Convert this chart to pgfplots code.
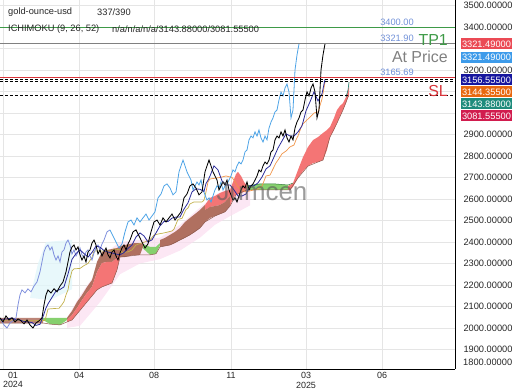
\documentclass[border=0pt]{standalone}
\usepackage{pgfplots}
\pgfplotsset{compat=1.18}
\usepackage{fontspec}
\setmainfont{Liberation Sans}
\definecolor{tenkan}{HTML}{2A2A9A}
\definecolor{kijunA}{HTML}{C2B04A}
\definecolor{kijunB}{HTML}{F0954A}
\definecolor{chikA}{HTML}{7F8FDD}
\definecolor{chikB}{HTML}{4DA3E6}
\definecolor{cloudred}{HTML}{F47575}
\definecolor{cloudbrown}{HTML}{B07060}
\definecolor{cloudgreen}{HTML}{86D06E}
\definecolor{tpgreen}{HTML}{3E9A47}
\definecolor{slred}{HTML}{D9343A}
\definecolor{lblblue}{HTML}{7090D8}
\definecolor{boxred}{HTML}{EB4A55}
\definecolor{boxblue}{HTML}{3D9BEA}
\definecolor{boxnavy}{HTML}{16169E}
\definecolor{boxorange}{HTML}{E8680F}
\definecolor{boxteal}{HTML}{1E8B7C}
\definecolor{boxcrimson}{HTML}{D11C4E}
\definecolor{shpink}{HTML}{FBDDF0}
\definecolor{shcyan}{HTML}{E2F6FA}
\tikzset{pbox/.style={fill=#1, text=white, inner sep=0pt, minimum width=51bp, minimum height=11bp, font=\fontsize{9.3}{10}\selectfont}}
\begin{document}
\begin{tikzpicture}[x=1bp,y=1bp]
\begin{axis}[
  scale only axis, width=455bp, height=369bp,
  xmin=0, xmax=455, ymin=1809, ymax=3525.6,
  axis x line*=bottom, axis y line*=right,
  axis line style={line width=0.8pt, black},
  clip mode=individual,
  tick style={draw=none}, major tick length=0pt,
  grid=major, grid style={line width=0.5pt, draw=black!10},
  xtick={3,79,154,231,306,382},
  xticklabels={,04,08,11,{03\\2025},06},
  xticklabel style={font=\fontsize{9}{9.5}\selectfont, align=center, text=black!85},
  ytick={1900,2000,...,3500},
  yticklabels={1900.00000,2000.00000,2100.00000,2200.00000,2300.00000,2400.00000,2500.00000,2600.00000,2700.00000,2800.00000,2900.00000,,,3200.00000,,3400.00000,3500.00000},
  yticklabel style={font=\fontsize{9.3}{10}\selectfont, anchor=west, xshift=5bp, text=black!85},
]
\coordinate (BL) at (rel axis cs:0,0);
% shading
\addplot[fill=shpink, draw=none, opacity=0.7] coordinates {(67,2047)(80,2150)(95,2250)(100,2330)(120,2400)(140,2410)(160,2420)(180,2480)(200,2560)(215,2620)(230,2650)(250,2660)(250,2570)(230,2520)(215,2480)(200,2420)(180,2360)(160,2320)(140,2300)(120,2250)(100,2120)(80,2010)(67,2000)};
\addplot[fill=shcyan, draw=none, opacity=0.8] coordinates {(30,2140)(38,2300)(46,2400)(72,2410)(72,2180)(50,2130)};
% cloud
\addplot[fill=cloudbrown, draw=none, opacity=0.85] coordinates {(0,2047)(20,2047)(43,2047)(43,2023)(20,2023)(0,2023)};
\addplot[fill=cloudgreen, draw=none] coordinates {(43,2047)(50,2047)(60,2047)(67,2047)(67,2037)(60,2014)(50,2018)(43,2037)};
\addplot[fill=cloudbrown, draw=none] coordinates {(67,2047)(72,2079)(77,2121)(82,2153)(87,2191)(92,2223)(97,2307)(102,2354)(107,2363)(112,2367)(117,2372)(120,2381)(120,2340)(117,2326)(112,2307)(107,2307)(102,2302)(97,2260)(92,2191)(87,2163)(82,2130)(77,2093)(72,2060)(67,2037)};
\addplot[fill=cloudred, draw=none] coordinates {(67,2037)(72,2060)(77,2093)(82,2130)(87,2163)(92,2191)(97,2260)(102,2302)(107,2307)(112,2307)(117,2326)(120,2340)(120,2330)(117,2270)(112,2209)(107,2200)(102,2191)(97,2177)(92,2149)(87,2121)(82,2093)(77,2065)(72,2037)(67,2028)};
\addplot[fill=cloudbrown, draw=none] coordinates {(120,2381)(125,2386)(130,2391)(135,2395)(140,2395)(143,2391)(143,2377)(140,2340)(135,2340)(130,2335)(125,2330)(120,2330)};
\addplot[fill=cloudgreen, draw=none] coordinates {(143,2391)(150,2377)(156,2377)(160,2395)(160,2385)(156,2345)(150,2340)(143,2370)};
\addplot[fill=cloudbrown, draw=none] coordinates {(160,2409)(165,2419)(170,2433)(175,2447)(180,2465)(185,2493)(190,2512)(195,2530)(200,2549)(205,2572)(205,2493)(200,2465)(195,2447)(190,2433)(185,2419)(180,2409)(175,2395)(170,2386)(165,2381)(160,2377)};
\addplot[fill=cloudred, draw=none] coordinates {(205,2572)(210,2605)(215,2614)(220,2628)(225,2637)(230,2642)(230,2614)(225,2586)(220,2572)(215,2567)(210,2563)(205,2549)};
\addplot[fill=cloudbrown, draw=none] coordinates {(205,2549)(210,2563)(215,2567)(220,2572)(225,2586)(230,2614)(230,2567)(225,2540)(220,2530)(215,2521)(210,2512)(205,2493)};
\addplot[fill=cloudred, draw=none] coordinates {(230,2642)(233,2679)(236,2716)(238,2726)(241,2707)(244,2679)(247,2661)(247,2642)(244,2633)(241,2628)(238,2623)(236,2619)(233,2605)(230,2567)};
\addplot[fill=cloudgreen, draw=none] coordinates {(247,2661)(260,2670)(275,2670)(288,2665)(288,2642)(275,2642)(260,2642)(247,2642)};
\addplot[fill=cloudred, draw=none] coordinates {(288,2661)(290,2665)(293,2674)(298,2735)(303,2795)(308,2842)(313,2874)(318,2888)(323,2907)(327,2921)(330,2935)(334,2977)(337,3014)(340,3033)(343,3046)(346,3074)(348,3107)(349,3144)(349,3082)(348,3074)(346,3046)(343,3014)(340,2986)(337,2953)(334,2921)(330,2888)(327,2828)(323,2781)(318,2772)(313,2767)(308,2753)(303,2730)(298,2698)(293,2656)(290,2642)(288,2642)};
% cloud edges
\addplot[color=cloudbrown!80!black, line width=0.5pt] coordinates {(0,2023)(43,2023)(50,2018)(60,2014)(67,2028)(72,2037)(77,2065)(82,2093)(87,2121)(92,2149)(97,2177)(102,2191)(107,2200)(112,2209)(117,2270)(120,2330)(130,2335)(140,2340)(150,2340)(156,2345)(160,2377)(170,2386)(180,2409)(190,2433)(200,2465)(205,2493)(215,2521)(225,2540)(230,2567)(236,2619)(247,2642)(275,2642)(290,2642)(298,2698)(308,2753)(318,2772)(323,2781)(330,2888)(337,2953)(343,3014)(348,3074)(349,3082)};
\addplot[color=tpgreen!80!black, line width=0.5pt] coordinates {(247,2661)(260,2670)(275,2670)(288,2665)(293,2674)};
\addplot[color=boxteal, line width=0.6pt] coordinates {(346,3074)(348,3107)(349,3144)};
% kijun
\addplot[color=kijunA, line width=0.7pt] coordinates {(0,2035)(10,2037)(20,2035)(30,2033)(40,2035)(45,2035)(48,2088)(56,2091)(59,2091)(62,2109)(64,2123)(66,2154)(68,2177)(70,2230)(72,2265)(74,2275)(80,2277)(84,2290)(88,2300)(92,2328)(94,2358)(112,2358)(114,2368)(120,2363)(122,2351)(128,2354)(132,2363)(136,2386)(146,2402)(150,2410)(154,2432)(158,2437)(164,2442)(172,2451)(174,2460)(178,2505)(182,2510)(186,2551)(188,2558)(190,2577)(194,2586)(202,2586)(204,2595)(206,2633)};
\addplot[color=kijunB, line width=0.7pt] coordinates {(206,2633)(208,2680)(210,2693)(220,2700)(226,2707)(232,2700)(234,2688)(238,2656)(240,2647)(244,2637)(246,2633)(258,2647)(262,2660)(264,2684)(266,2707)(270,2711)(272,2730)(276,2768)(278,2781)(282,2810)(286,2823)(290,2842)(294,2851)(296,2875)(298,2893)(302,2945)(306,2963)(310,2981)(314,3000)(318,3005)(322,3065)(325,3144.4)};
% chikou
\addplot[color=chikA, line width=0.8pt] coordinates {(1,2037)(4,2014)(7,2000)(10,2023)(13,2033)(16,2047)(18,2107)(20,2154)(22,2177)(25,2163)(28,2182)(31,2168)(34,2195)(37,2214)(40,2261)(42,2307)(44,2354)(46,2377)(48,2386)(50,2363)(52,2377)(54,2340)(56,2316)(58,2335)(60,2307)(62,2354)(64,2363)(66,2395)(68,2409)(70,2386)(72,2344)(74,2363)(76,2335)(78,2354)(80,2372)(82,2340)(84,2326)(86,2354)(88,2363)(90,2335)(92,2316)(94,2349)(96,2372)(98,2386)(100,2363)(102,2391)(104,2409)(107,2447)(110,2456)};
\addplot[color=chikB, line width=0.8pt] coordinates {(110,2456)(113,2428)(116,2400)(119,2372)(122,2391)(125,2447)(128,2493)(131,2502)(134,2479)(137,2512)(140,2493)(143,2512)(146,2530)(149,2502)(152,2521)(155,2540)(158,2605)(161,2623)(164,2661)(167,2670)(170,2651)(173,2619)(176,2633)(179,2726)(181,2754)(183,2781)(185,2754)(187,2726)(189,2707)(191,2688)(193,2642)(195,2661)(197,2679)(199,2665)(201,2688)(203,2642)(205,2619)(207,2595)(209,2605)(211,2586)(213,2614)(215,2642)(217,2661)(219,2651)(221,2679)(223,2642)(225,2661)(227,2670)(229,2688)(231,2707)(233,2735)(235,2726)(237,2754)(239,2772)(241,2763)(243,2781)(245,2819)(247,2828)(249,2875)(251,2893)(253,2884)(255,2912)(257,2893)(259,2921)(261,2884)(263,2865)(265,2893)(267,2875)(269,2930)(271,2958)(273,2977)(275,3005)(277,3014)(279,3061)(281,3098)(283,3079)(285,3116)(287,3135)(289,3098)(291,2977)(293,3014)(295,3200)(297,3270)(299,3321.5)};
% tenkan
\addplot[color=tenkan, line width=0.8pt] coordinates {(0,2040)(8,2042)(12,2047)(16,2037)(20,2037)(24,2030)(28,2028)(32,2025)(36,2012)(40,2017)(44,2065)(46,2093)(48,2112)(52,2142)(56,2172)(60,2179)(64,2191)(68,2251)(72,2319)(76,2346)(80,2363)(84,2346)(88,2330)(92,2351)(96,2381)(100,2376)(104,2360)(108,2353)(112,2349)(116,2344)(120,2340)(124,2351)(128,2370)(132,2386)(136,2423)(140,2442)(144,2428)(148,2400)(152,2410)(156,2442)(160,2475)(164,2495)(168,2495)(172,2511)(176,2516)(180,2516)(184,2553)(188,2582)(192,2633)(196,2647)(200,2645)(204,2635)(206,2672)(208,2687)(210,2707)(214,2754)(218,2735)(222,2684)(226,2665)(230,2665)(234,2642)(238,2614)(242,2614)(246,2623)(250,2661)(254,2661)(258,2675)(262,2702)(266,2740)(270,2754)(274,2795)(278,2837)(282,2870)(286,2903)(290,2893)(294,2893)(298,2912)(302,2940)(306,3010)(310,3052)(314,3098)(318,3056)(322,3089)(325,3156.6)};
% price
\addplot[color=black, line width=0.85pt] coordinates {(0,2047)(3,2028)(6,2056)(9,2037)(12,2047)(15,2028)(18,2042)(21,2033)(24,2019)(27,2037)(30,2014)(33,2000)(36,2023)(39,2033)(42,2047)(44,2107)(46,2154)(48,2177)(51,2163)(54,2182)(57,2168)(60,2195)(63,2214)(66,2261)(68,2307)(70,2354)(72,2377)(74,2386)(76,2363)(78,2377)(80,2340)(82,2316)(84,2335)(86,2307)(88,2354)(90,2363)(92,2395)(94,2409)(96,2386)(98,2344)(100,2363)(102,2335)(104,2354)(106,2372)(108,2340)(110,2326)(112,2354)(114,2363)(116,2335)(118,2316)(120,2349)(122,2372)(124,2386)(126,2363)(128,2391)(130,2409)(133,2447)(136,2456)(139,2428)(142,2400)(145,2372)(148,2391)(151,2447)(154,2493)(157,2502)(160,2479)(163,2512)(166,2493)(169,2512)(172,2530)(175,2502)(178,2521)(181,2540)(184,2605)(187,2623)(190,2661)(193,2670)(196,2651)(199,2619)(202,2633)(205,2726)(207,2754)(209,2781)(211,2754)(213,2726)(215,2707)(217,2688)(219,2642)(221,2661)(223,2679)(225,2665)(227,2688)(229,2642)(231,2619)(233,2595)(235,2605)(237,2586)(239,2614)(241,2642)(243,2661)(245,2651)(247,2679)(249,2642)(251,2661)(253,2670)(255,2688)(257,2707)(259,2735)(261,2726)(263,2754)(265,2772)(267,2763)(269,2781)(271,2819)(273,2828)(275,2875)(277,2893)(279,2884)(281,2912)(283,2893)(285,2921)(287,2884)(289,2865)(291,2893)(293,2875)(295,2930)(297,2958)(299,2977)(301,3005)(303,3014)(305,3061)(307,3098)(309,3079)(311,3116)(313,3135)(315,3098)(317,2977)(319,3014)(321,3200)(323,3270)(325,3321.5)};
% level lines
\addplot[color=tpgreen, line width=0.9pt] coordinates {(0,3400)(455,3400)};
\addplot[color=black!50, line width=0.8pt] coordinates {(0,3321.9)(455,3321.9)};
\addplot[color=slred, line width=0.9pt] coordinates {(0,3165.69)(455,3165.69)};
\addplot[color=black, line width=1pt, dash pattern=on 3bp off 2bp] coordinates {(0,3156.555)(455,3156.555)};
\addplot[color=black, line width=1pt, dash pattern=on 3bp off 2bp] coordinates {(0,3144.355)(455,3144.355)};
\addplot[color=black, line width=1pt, dash pattern=on 3bp off 2bp] coordinates {(0,3081.555)(455,3081.555)};
% watermark
\node[text=black!65, opacity=0.6, font=\fontsize{26}{28}\selectfont] at (axis cs:262,2632) {Jumcen};
% texts
\node[anchor=west, inner sep=0pt, text=black!85, font=\fontsize{9.3}{11}\selectfont] at (axis cs:8,3469.8) {gold-ounce-usd};
\node[anchor=west, inner sep=0pt, text=black!85, font=\fontsize{9.3}{11}\selectfont] at (axis cs:97,3469.8) {337/390};
\node[anchor=west, inner sep=0pt, text=black!85, font=\fontsize{9.3}{11}\selectfont] at (axis cs:8,3390.7) {ICHIMOKU (9, 26, 52)};
\node[anchor=west, inner sep=0pt, text=black!85, font=\fontsize{9.3}{11}\selectfont] at (axis cs:112,3390.7) {n/a/n/a/n/a/3143.88000/3081.55500};
\node[inner sep=0pt, text=lblblue, font=\fontsize{9.3}{11}\selectfont] at (axis cs:397,3423.3) {3400.00};
\node[inner sep=0pt, text=lblblue, font=\fontsize{9.3}{11}\selectfont] at (axis cs:397,3348.9) {3321.90};
\node[inner sep=0pt, text=lblblue, font=\fontsize{9.3}{11}\selectfont] at (axis cs:397,3190.7) {3165.69};
\node[anchor=east, inner sep=0pt, text=tpgreen, font=\fontsize{16}{18}\selectfont] at (axis cs:448,3339.6) {TP1};
\node[anchor=east, inner sep=0pt, text=black!50, font=\fontsize{16}{18}\selectfont] at (axis cs:448,3260.5) {At Price};
\node[anchor=east, inner sep=0pt, text=slred, font=\fontsize{16}{18}\selectfont] at (axis cs:448,3102.4) {SL};
% x label for first tick
\node[anchor=north, align=center, inner sep=3bp, text=black!85, font=\fontsize{9}{9.5}\selectfont] at (axis cs:13,1809) {01\\2024};
% bottom y label
\node[anchor=west, inner sep=0pt, text=black!85, font=\fontsize{9.3}{10}\selectfont] at (axis cs:463,1842) {1800.00000};
% value boxes
\node[pbox=boxred] at (axis cs:486.5,3321) {3321.49000};
\node[pbox=boxblue] at (axis cs:486.5,3260.1) {3321.49000};
\node[pbox=boxnavy] at (axis cs:486.5,3153.5) {3156.55500};
\node[pbox=boxorange] at (axis cs:486.5,3097.7) {3144.35500};
\node[pbox=boxteal] at (axis cs:486.5,3041.9) {3143.88000};
\node[pbox=boxcrimson] at (axis cs:486.5,2986.1) {3081.55500};
\end{axis}
\pgfresetboundingbox
\path[use as bounding box] (BL) ++(0,-21) rectangle ++(520,390);
\end{tikzpicture}
\end{document}
